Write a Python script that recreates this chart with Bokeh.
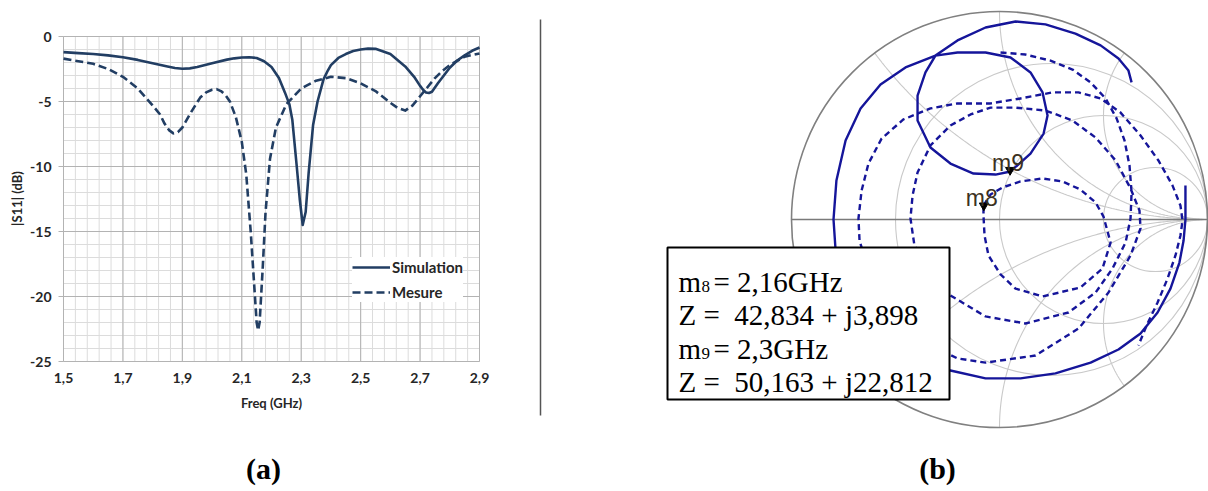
import numpy as np
from bokeh.plotting import figure
from bokeh.models import Range1d, Legend
from bokeh.core.properties import value
from bokeh.embed import file_html
from bokeh.resources import INLINE

# ---------------- (a) |S11| data ----------------
freq_sim = [1.50, 1.55, 1.60, 1.65, 1.70, 1.75, 1.80, 1.85, 1.875, 1.90, 1.925, 1.95, 2.00, 2.05, 2.075,
            2.10, 2.125, 2.15, 2.175, 2.20, 2.225, 2.245, 2.26, 2.27, 2.285, 2.295, 2.305, 2.315, 2.325, 2.34,
            2.355, 2.375, 2.39, 2.40, 2.425, 2.45, 2.475, 2.50, 2.525, 2.55, 2.60, 2.65, 2.68, 2.70, 2.71,
            2.72, 2.73, 2.74, 2.76, 2.78, 2.80, 2.825, 2.85, 2.875, 2.90]
s11_sim = [-1.20, -1.28, -1.35, -1.45, -1.60, -1.80, -2.05, -2.30, -2.42, -2.48, -2.45, -2.35, -2.05, -1.78, -1.68,
           -1.62, -1.60, -1.65, -1.90, -2.35, -3.20, -4.30, -5.20, -6.40, -10.0, -12.5, -14.5, -13.5, -10.5, -6.8,
           -5.0, -3.3, -2.6, -2.2, -1.65, -1.35, -1.12, -1.0, -0.93, -0.95, -1.35, -2.3, -3.1, -3.8, -4.1,
           -4.3, -4.35, -4.25, -3.6, -3.0, -2.4, -1.85, -1.45, -1.1, -0.85]
freq_mes = [1.50, 1.55, 1.60, 1.65, 1.70, 1.75, 1.80, 1.825, 1.84, 1.855, 1.87, 1.885, 1.90, 1.915, 1.93,
            1.96, 1.98, 2.00, 2.015, 2.03, 2.045, 2.06, 2.08, 2.10, 2.115, 2.13, 2.14, 2.15, 2.155, 2.16,
            2.17, 2.18, 2.195, 2.215, 2.25, 2.30, 2.35, 2.40, 2.45, 2.50, 2.55, 2.60, 2.625, 2.65, 2.675,
            2.70, 2.725, 2.75, 2.775, 2.80, 2.85, 2.90]
s11_mes = [-1.70, -1.90, -2.10, -2.50, -3.10, -4.00, -5.30, -6.00, -6.70, -7.20, -7.45, -7.35, -7.00, -6.40, -5.80,
           -4.70, -4.30, -4.10, -4.05, -4.20, -4.50, -5.00, -6.20, -8.10, -10.6, -15.0, -18.5, -22.0, -22.6, -22.0,
           -18.0, -13.5, -9.4, -7.0, -5.2, -4.0, -3.4, -3.1, -3.2, -3.6, -4.2, -5.1, -5.5, -5.7, -5.3,
           -4.6, -3.9, -3.2, -2.65, -2.2, -1.55, -1.30]
x_ticks = [1.5, 1.7, 1.9, 2.1, 2.3, 2.5, 2.7, 2.9]
x_tick_labels = ["1,5", "1,7", "1,9", "2,1", "2,3", "2,5", "2,7", "2,9"]
y_ticks = [0, -5, -10, -15, -20, -25]
y_tick_labels = ["0", "-5", "-10", "-15", "-20", "-25"]
series_names = ["Simulation", "Mesure"]

# ---------------- (b) Smith chart data (reflection coefficient) ----------------
sim_re = [0.894, 0.894, 0.894, 0.885, 0.865, 0.822, 0.760, 0.678, 0.572, 0.438, 0.269, 0.101, -0.067, -0.236, -0.404,
          -0.548, -0.668, -0.750, -0.788, -0.798, -0.784, -0.740, -0.668, -0.572, -0.452, -0.308, -0.202, -0.067,
          0.053, 0.149, 0.207, 0.231, 0.212, 0.149, 0.053, -0.019, -0.125, -0.236, -0.332, -0.394, -0.394, -0.356,
          -0.308, -0.202, -0.067, 0.077, 0.221, 0.365, 0.486, 0.572, 0.620, 0.635]
sim_im = [0.163, 0.091, 0.000, -0.101, -0.207, -0.332, -0.447, -0.548, -0.625, -0.688, -0.740, -0.764, -0.764, -0.726,
          -0.654, -0.558, -0.438, -0.293, -0.149, 0.000, 0.188, 0.380, 0.534, 0.649, 0.731, 0.788, 0.803, 0.803,
          0.779, 0.707, 0.611, 0.500, 0.413, 0.317, 0.231, 0.216, 0.221, 0.269, 0.346, 0.476, 0.596, 0.707,
          0.788, 0.861, 0.923, 0.952, 0.938, 0.894, 0.837, 0.774, 0.716, 0.659]
mes_re = [0.005, 0.125, 0.245, 0.351, 0.438, 0.510, 0.563, 0.601, 0.625, 0.635, 0.630, 0.606, 0.543, 0.462, 0.332,
          0.125, -0.067, -0.236, -0.341, -0.409, -0.428, -0.418, -0.394, -0.332, -0.236, -0.139, -0.043, 0.077,
          0.221, 0.351, 0.462, 0.558, 0.630, 0.673, 0.678, 0.630, 0.524, 0.380, 0.173, -0.067, -0.202, -0.380,
          -0.524, -0.630, -0.673, -0.678, -0.663, -0.630, -0.567, -0.462, -0.332, -0.202, -0.043, 0.101, 0.255,
          0.380, 0.486, 0.582, 0.678, 0.764, 0.832, 0.870, 0.880, 0.870, 0.846, 0.808, 0.760, 0.707, 0.668,
          float("nan"),
          -0.077, -0.043, 0.014, 0.101, 0.207, 0.303, 0.389, 0.462, 0.500, 0.534, 0.495, 0.389, 0.207, 0.077,
          0.005, -0.053, -0.072, -0.077, -0.077]
mes_im = [0.803, 0.793, 0.764, 0.721, 0.659, 0.582, 0.486, 0.380, 0.260, 0.130, 0.005, -0.111, -0.236, -0.351,
          -0.447, -0.500, -0.466, -0.365, -0.245, -0.125, 0.005, 0.115, 0.226, 0.356, 0.452, 0.505, 0.538, 0.538,
          0.524, 0.476, 0.394, 0.284, 0.149, 0.043, -0.043, -0.173, -0.351, -0.524, -0.654, -0.688, -0.668,
          -0.582, -0.438, -0.245, -0.101, 0.005, 0.139, 0.269, 0.389, 0.481, 0.534, 0.558, 0.558, 0.582, 0.611,
          0.611, 0.582, 0.514, 0.404, 0.284, 0.163, 0.067, -0.005, -0.077, -0.173, -0.284, -0.399, -0.510, -0.606,
          float("nan"),
          0.067, 0.120, 0.154, 0.183, 0.197, 0.183, 0.144, 0.082, 0.014, -0.111, -0.236, -0.327, -0.370, -0.332,
          -0.264, -0.173, -0.077, 0.019, 0.053]
marker_names = ["m8", "m9"]
marker_sub = ["8", "9"]
marker_freq = ["2,16GHz", "2,3GHz"]
marker_z_re = [42.834, 50.163]
marker_z_im = [3.898, 22.812]
z_text = ["42,834 + j3,898", "50,163 + j22,812"]
r_grid = [1 / 3, 1.0, 3.0]
x_grid = [0.5, 1.0, 2.0, -0.5, -1.0, -2.0]

# ---------------- styles / layout helpers (page pixels -> data units) ----------------
NAVY = "#223e63"
BLUE = "#15159a"
GRID_MAJ = "#b3b3b3"
GRID_MIN = "#dcdcdc"
TXT = "#262626"
FONT = "Lato"
SERIF = "Liberation Serif"

W, H = 1208, 491                    # canvas, placed at page (0, 0)
PX0, PY0 = 0.0, 0.0
CX, CY, R = 999.0, 219.0, 208.0     # Smith chart centre / radius (page px)
AL, AR, AT, AB = 63.0, 479.0, 36.0, 361.0   # S11 plot area (page px)
F0, F1, D0, D1 = 1.5, 2.9, 0.0, -25.0


def gx(px):
    return (px - CX) / R


def gy(py):
    return (CY - py) / R


def fx(px):
    return F0 + (px - AL) * (F1 - F0) / (AR - AL)


def dy(py):
    return D0 + (py - AT) * (D1 - D0) / (AB - AT)


p = figure(width=W, height=H, x_range=Range1d(gx(PX0), gx(PX0 + W)), y_range=Range1d(gy(PY0 + H), gy(PY0)),
           output_backend="svg", toolbar_location=None, min_border=0,
           x_axis_location=None, y_axis_location=None, outline_line_color=None,
           background_fill_color="white", border_fill_color="white")
p.grid.visible = False
p.extra_x_ranges = {"f": Range1d(fx(PX0), fx(PX0 + W))}
p.extra_y_ranges = {"db": Range1d(dy(PY0 + H), dy(PY0))}
A = dict(x_range_name="f", y_range_name="db")

# ---- panel (a): grid
x_minor = [round(F0 + 0.04 * i, 2) for i in range(36)]
y_minor = list(range(-25, 1))
p.segment(x0=x_minor, y0=[D1] * len(x_minor), x1=x_minor, y1=[D0] * len(x_minor),
          line_color=GRID_MIN, line_width=1, **A)
p.segment(x0=[F0] * len(y_minor), y0=y_minor, x1=[F1] * len(y_minor), y1=y_minor,
          line_color=GRID_MIN, line_width=1, **A)
p.segment(x0=x_ticks, y0=[D1] * len(x_ticks), x1=x_ticks, y1=[D0] * len(x_ticks),
          line_color=GRID_MAJ, line_width=1, **A)
p.segment(x0=[F0] * len(y_ticks), y0=y_ticks, x1=[F1] * len(y_ticks), y1=y_ticks,
          line_color=GRID_MAJ, line_width=1, **A)
p.segment(x0=[fx(AL - 5)] * len(y_ticks), y0=y_ticks, x1=[F0] * len(y_ticks), y1=y_ticks,
          line_color=GRID_MAJ, line_width=1, **A)

lab = dict(text_font=value(FONT), text_font_style="bold", text_font_size="14px", text_color=TXT)
p.text(x=[F0] * len(y_ticks), y=y_ticks, text=y_tick_labels, x_offset=-12,
       text_align="right", text_baseline="middle", **lab, **A)
p.text(x=x_ticks, y=[D1] * len(x_ticks), text=x_tick_labels, y_offset=11,
       text_align="center", text_baseline="top", **lab, **A)
p.text(x=[fx(271)], y=[dy(402)], text=["Freq (GHz)"], text_align="center", text_baseline="middle",
       text_font=value(FONT), text_font_style="bold", text_font_size="13px", text_color=TXT, **A)
p.text(x=[fx(16.5)], y=[dy(198)], text=["|S11| (dB)"], angle=np.pi / 2, text_align="center",
       text_baseline="middle", text_font=value(FONT), text_font_style="bold", text_font_size="13px",
       text_color=TXT, **A)

r1 = p.line(freq_sim, s11_sim, line_color=NAVY, line_width=2.6, line_join="round", **A)
r2 = p.line(freq_mes, s11_mes, line_color=NAVY, line_width=2.6, line_dash="8 4", line_join="round", **A)
leg = Legend(items=[(series_names[0], [r1]), (series_names[1], [r2])],
             location=(352 - PX0, PY0 + H - 302),
             glyph_width=38, glyph_height=20, label_height=20, label_standoff=2, spacing=5, padding=6,
             margin=0, border_line_color=None, background_fill_color="white", background_fill_alpha=1.0,
             label_text_font=FONT, label_text_font_style="bold", label_text_font_size="15px",
             label_text_color=TXT)
p.add_layout(leg)

# ---- panel (b): Smith chart grid
SGRID = "#c9c9c9"
p.circle(x=[r / (1 + r) for r in r_grid], y=[0] * len(r_grid), radius=[1 / (1 + r) for r in r_grid],
         fill_color=None, line_color=SGRID, line_width=1.1)
rr = np.concatenate([[0.0], np.logspace(-3, 3.5, 400)])
xs_arc, ys_arc = [], []
for xv in x_grid:
    gam = (rr + 1j * xv - 1) / (rr + 1j * xv + 1)
    xs_arc.append(gam.real)
    ys_arc.append(gam.imag)
p.multi_line(xs_arc, ys_arc, line_color=SGRID, line_width=1.1)
p.circle(x=[0], y=[0], radius=[1.0], fill_color=None, line_color="#808080", line_width=1.6)
p.segment(x0=[-1.0], y0=[0], x1=[1.0], y1=[0], line_color="#7a7a7a", line_width=1.6)

# traces
p.line(sim_re, sim_im, line_color=BLUE, line_width=2.4, line_join="round")
p.line(mes_re, mes_im, line_color=BLUE, line_width=2.4, line_dash="6 4", line_join="round")

zm = np.array(marker_z_re) + 1j * np.array(marker_z_im)
gm = (zm - 50) / (zm + 50)
p.scatter(x=gm.real, y=gm.imag + 4.5 / R, marker="inverted_triangle", size=9, color="black")
p.text(x=gm.real, y=gm.imag, text=marker_names, x_offset=-18, y_offset=-12,
       text_font=value("Liberation Sans"), text_font_size="23px", text_color="#3b3122",
       text_align="left", text_baseline="alphabetic")

# annotation box
p.quad(left=[gx(667)], right=[gx(949)], top=[gy(247)], bottom=[gy(399)],
       fill_color="white", line_color="black", line_width=2)
serif = dict(text_font=value(SERIF), text_color="black", text_align="left", text_baseline="alphabetic")
base = [281, 314.5, 348, 381.5]
p.text(x=[gx(678)] * 2, y=[gy(base[0]), gy(base[2])], text=["m", "m"], text_font_size="29px", **serif)
p.text(x=[gx(701)] * 2, y=[gy(base[0] + 5), gy(base[2] + 5)], text=marker_sub, text_font_size="17px", **serif)
p.text(x=[gx(713)] * 2, y=[gy(base[0]), gy(base[2])], text=["= " + f for f in marker_freq],
       text_font_size="29px", **serif)
p.text(x=[gx(678)] * 2, y=[gy(base[1]), gy(base[3])], text=["Z =\u00a0 " + t for t in z_text],
       text_font_size="29px", **serif)

# separator and panel labels
p.segment(x0=[gx(540)], y0=[gy(19)], x1=[gx(540)], y1=[gy(415)], line_color="#555555", line_width=1.5)
p.text(x=[gx(263), gx(937)], y=[gy(468)] * 2, text=["(a)", "(b)"], text_font=value(SERIF),
       text_font_style="bold", text_font_size="30px", text_align="center", text_baseline="middle",
       text_color="black")

open("out.html", "w").write(file_html(p, INLINE))
